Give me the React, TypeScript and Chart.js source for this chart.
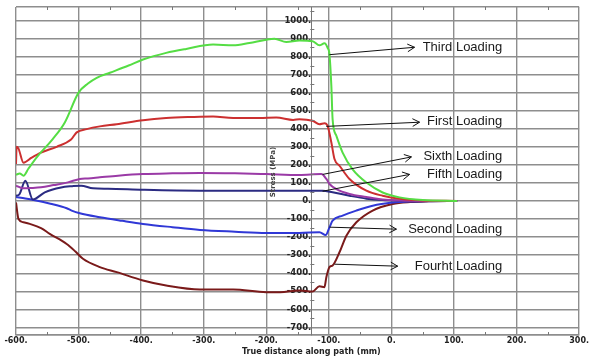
import React, { useEffect, useRef } from "react";
import { Chart, registerables } from "chart.js";

Chart.register(...registerables);

const X_MIN = -600;
const X_MAX = 300;
const Y_MIN = -742;
const Y_MAX = 1074;
const Y_AXIS_AT = -128;

const xTitle = "True distance along path (mm)";
const yTitle = "Stress (MPa)";

const yTickValues = [-700, -600, -500, -400, -300, -200, -100, 0, 100, 200, 300, 400, 500, 600, 700, 800, 900, 1000];

// Third loading (green)
const thirdX = [-600, -594, -588, -580, -565, -542, -522, -500, -485, -471, -450, -420, -397, -360, -328, -285, -253, -227, -200, -187, -168, -147, -126, -115, -107, -102, -99, -96, -94, -88, -78, -62, -40, -14, 13, 50, 105];
const thirdY = [145, 152, 140, 180, 250, 340, 435, 600, 650, 682, 710, 750, 783, 820, 842, 866, 862, 875, 893, 898, 880, 888, 885, 862, 873, 848, 811, 636, 452, 361, 268, 175, 102, 47, 20, 5, 0];

// First loading (red)
const firstX = [-600, -599, -596, -588, -575, -560, -535, -512, -503, -487, -466, -439, -397, -360, -320, -285, -253, -211, -184, -157, -147, -126, -115, -107, -102, -96, -91, -83, -67, -40, -14, 13, 50, 105];
const firstY = [205, 300, 290, 212, 240, 268, 300, 340, 380, 398, 413, 425, 447, 459, 465, 468, 459, 459, 462, 449, 453, 444, 425, 431, 416, 324, 232, 195, 122, 57, 29, 12, 3, 0];

// Sixth loading (purple)
const sixthX = [-600, -589, -575, -560, -540, -517, -498, -485, -466, -437, -397, -350, -306, -250, -200, -147, -112, -104, -99, -88, -67, -40, -14, 13, 50, 105];
const sixthY = [85, 70, 72, 76, 88, 103, 122, 125, 131, 140, 149, 153, 155, 153, 149, 144, 149, 122, 94, 66, 39, 22, 8, 2, 0, 0];

// Fifth loading (navy)
const fifthX = [-600, -595, -585, -573, -554, -528, -510, -496, -477, -453, -397, -306, -200, -147, -110, -94, -67, -40, -14, 13, 50, 105];
const fifthY = [29, 35, 112, 8, 48, 75, 82, 85, 70, 68, 62, 57, 57, 57, 57, 48, 29, 13, 5, 2, 0, 0];

// Second loading (blue)
const secondX = [-600, -585, -572, -545, -519, -511, -498, -466, -430, -397, -350, -306, -250, -200, -147, -115, -105, -99, -94, -78, -56, -30, 2, 30, 60, 105];
const secondY = [22, 14, 6, -15, -40, -53, -68, -90, -110, -127, -145, -160, -170, -177, -177, -173, -188, -146, -109, -81, -53, -26, -9, -3, -1, 0];

// Fourth loading (dark red)
const fourthX = [-600, -596, -588, -578, -560, -546, -519, -505, -493, -466, -439, -397, -360, -306, -253, -200, -178, -147, -126, -115, -107, -104, -99, -94, -83, -72, -56, -30, 2, 30, 60, 105];
const fourthY = [-8, -100, -118, -127, -150, -182, -238, -280, -320, -366, -394, -440, -468, -490, -490, -505, -505, -495, -501, -472, -477, -422, -366, -357, -284, -192, -118, -53, -17, -6, -2, 0];

const seriesNames = ["Third Loading", "First Loading", "Sixth Loading", "Fifth Loading", "Second Loading", "Fourht Loading"];
const seriesColors = ["#55dd44", "#cc3030", "#9a3aa6", "#2b2b82", "#3038d6", "#7a1a1a"];
const seriesXs = [thirdX, firstX, sixthX, fifthX, secondX, fourthX];
const seriesYs = [thirdY, firstY, sixthY, fifthY, secondY, fourthY];

// Annotation arrows: start on curve -> arrow tip, label y (data units)
const annoFrom = [[-99, 810], [-104, 413], [-110, 147], [-110, 54], [-99, -145], [-91, -350]];
const annoTo = [[37, 851], [45, 436], [32, 244], [29, 147], [8, -156], [10, -361]];
const annoTextY = [851, 440, 247, 147, -156, -361];
const annoTextRight = 177;

const overlayPlugin = {
  id: "overlay",
  afterDatasetsDraw(chart: any) {
    const { ctx, chartArea } = chart;
    const xs = chart.scales.x;
    const ys = chart.scales.y;
    const axisPx = xs.getPixelForValue(Y_AXIS_AT);
    ctx.save();
    // minor ticks
    ctx.strokeStyle = "#777";
    ctx.lineWidth = 1;
    ctx.beginPath();
    for (let v = X_MIN + 50; v < X_MAX; v += 100) {
      const px = Math.round(xs.getPixelForValue(v)) + 0.5;
      ctx.moveTo(px, chartArea.top);
      ctx.lineTo(px, chartArea.top + 3);
      ctx.moveTo(px, chartArea.bottom);
      ctx.lineTo(px, chartArea.bottom - 3);
    }
    for (let v = -650; v <= 1050; v += 100) {
      const py = Math.round(ys.getPixelForValue(v)) + 0.5;
      ctx.moveTo(axisPx - 1, py);
      ctx.lineTo(axisPx + 3, py);
    }
    ctx.stroke();

    // axis titles
    ctx.fillStyle = "#222";
    ctx.font = "bold 8px 'DejaVu Sans'";
    ctx.textAlign = "center";
    ctx.textBaseline = "middle";
    ctx.fillText(xTitle, axisPx, 352);
    ctx.save();
    ctx.translate(273, (chartArea.top + chartArea.bottom) / 2 + 1);
    ctx.rotate(-Math.PI / 2);
    ctx.font = "bold 7px 'DejaVu Sans'";
    ctx.fillStyle = "#444";
    ctx.fillText(yTitle, 0, 0);
    ctx.restore();

    // annotations
    ctx.strokeStyle = "#111";
    ctx.lineWidth = 1;
    ctx.fillStyle = "#1a1a1a";
    ctx.font = "13px 'Liberation Sans', Arial, sans-serif";
    ctx.textAlign = "right";
    ctx.textBaseline = "middle";
    for (let i = 0; i < seriesNames.length; i++) {
      const x1 = xs.getPixelForValue(annoFrom[i][0]);
      const y1 = ys.getPixelForValue(annoFrom[i][1]);
      const x2 = xs.getPixelForValue(annoTo[i][0]);
      const y2 = ys.getPixelForValue(annoTo[i][1]);
      const ang = Math.atan2(y2 - y1, x2 - x1);
      const L = 8;
      const a = 0.5;
      ctx.beginPath();
      ctx.moveTo(x1, y1);
      ctx.lineTo(x2, y2);
      ctx.moveTo(x2 - L * Math.cos(ang - a), y2 - L * Math.sin(ang - a));
      ctx.lineTo(x2, y2);
      ctx.lineTo(x2 - L * Math.cos(ang + a), y2 - L * Math.sin(ang + a));
      ctx.stroke();
      ctx.fillText(seriesNames[i], xs.getPixelForValue(annoTextRight), ys.getPixelForValue(annoTextY[i]));
    }
    ctx.restore();
  },
};

const bgPlugin = {
  id: "bg",
  beforeDraw(chart: any) {
    const { ctx, width, height } = chart;
    ctx.save();
    ctx.fillStyle = "#ffffff";
    ctx.fillRect(0, 0, width, height);
    ctx.restore();
  },
};

export default function App() {
  const ref = useRef<HTMLCanvasElement | null>(null);
  useEffect(() => {
    if (!ref.current) return;
    const datasets = seriesNames.map((name, i) => ({
      label: name,
      data: seriesXs[i].map((x, j) => ({ x, y: seriesYs[i][j] })),
      borderColor: seriesColors[i],
      backgroundColor: seriesColors[i],
      borderWidth: 2,
      pointRadius: 0,
      fill: false,
      cubicInterpolationMode: "monotone" as const,
    }));
    const gridColor = "#8e8e8e";
    const chart = new Chart(ref.current, {
      type: "line",
      data: { datasets },
      options: {
        animation: false,
        responsive: false,
        devicePixelRatio: 1,
        layout: { padding: { left: 16, right: 10, top: 7, bottom: 0 } },
        plugins: { legend: { display: false }, tooltip: { enabled: false } },
        scales: {
          x: {
            type: "linear",
            min: X_MIN,
            max: X_MAX,
            afterFit: (s: any) => {
              s.height = 23;
            },
            ticks: {
              stepSize: 100,
              autoSkip: false,
              maxRotation: 0,
              padding: 1,
              color: "#222",
              font: { family: "'DejaVu Sans'", size: 8, weight: "bold" },
              callback: (v: any) => `${v}.`,
            },
            grid: { color: gridColor, lineWidth: 1.4, drawTicks: false },
            border: { display: true, color: gridColor, width: 1.4 },
          },
          y: {
            type: "linear",
            min: Y_MIN,
            max: Y_MAX,
            position: { x: Y_AXIS_AT } as any,
            afterBuildTicks: (s: any) => {
              s.ticks = [Y_MIN, ...yTickValues, Y_MAX].map((v) => ({ value: v }));
            },
            ticks: {
              autoSkip: false,
              padding: 0,
              color: "#222",
              font: { family: "'DejaVu Sans'", size: 8.5, weight: "bold" },
              callback: (v: any) => (yTickValues.includes(v) ? `${v}.` : ""),
            },
            grid: { color: gridColor, lineWidth: 1.4, drawTicks: false },
            border: { display: true, color: "#777", width: 1 },
          },
        },
      },
      plugins: [bgPlugin, overlayPlugin],
    });
    return () => chart.destroy();
  }, []);
  return (
    <div style={{ position: "absolute", left: 0, top: 0, width: 590, height: 358 }}>
      <canvas ref={ref} width={590} height={358} />
    </div>
  );
}
